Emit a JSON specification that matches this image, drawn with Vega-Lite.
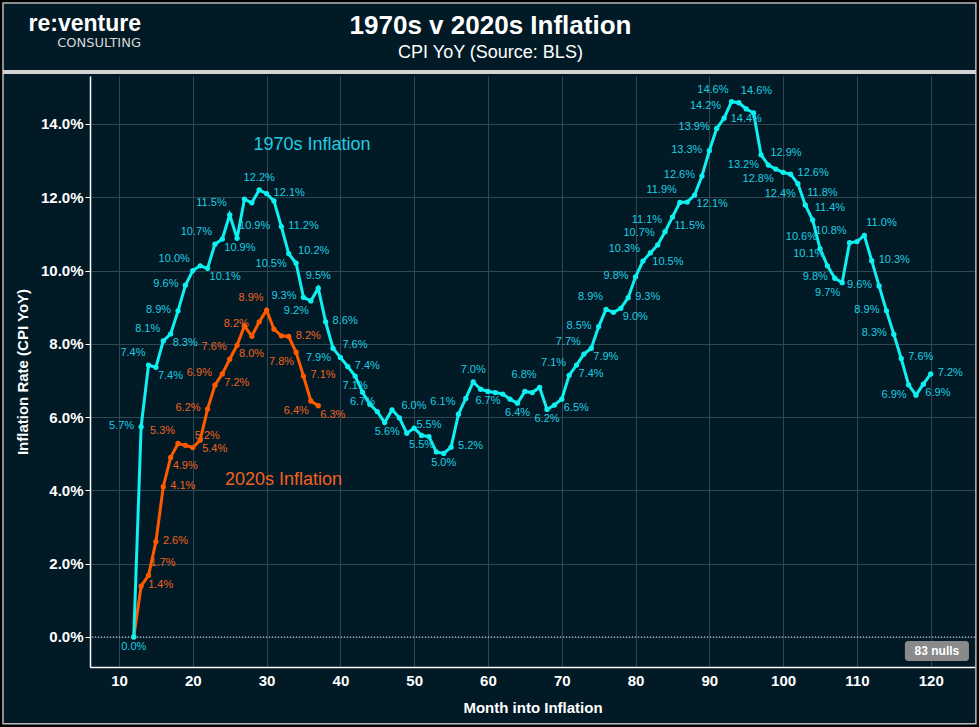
{
  "$schema": "https://vega.github.io/schema/vega-lite/v6.json",
  "width": 885,
  "height": 591,
  "autosize": {"type": "none"},
  "padding": {"left": 90, "top": 76, "right": 4, "bottom": 60},
  "background": "#011a26",
  "title": {
    "text": "1970s v 2020s Inflation",
    "subtitle": "CPI YoY (Source: BLS)",
    "anchor": "middle",
    "frame": "group",
    "dx": -42,
    "dy": 78,
    "offset": 14,
    "font": "Liberation Sans",
    "fontSize": 26,
    "fontWeight": "bold",
    "color": "#ffffff",
    "subtitleFont": "Liberation Sans",
    "subtitleFontSize": 18,
    "subtitleColor": "#ffffff",
    "subtitlePadding": 5
  },
  "config": {
    "view": {"stroke": null},
    "axis": {
      "labelFont": "Liberation Sans",
      "titleFont": "Liberation Sans",
      "labelColor": "#ffffff",
      "titleColor": "#ffffff",
      "labelFontWeight": "bold",
      "titleFontWeight": "bold",
      "labelFontSize": 15,
      "titleFontSize": 15,
      "gridColor": "#2e4753",
      "gridWidth": 1,
      "domainColor": "#ffffff",
      "domainWidth": 1.5,
      "tickColor": "#ffffff"
    },
    "text": {"font": "Liberation Sans", "fontSize": 11, "baseline": "middle"}
  },
  "datasets": {
    "cpi": [
      {"series": "1970s", "month": 12, "rate": 0.0},
      {"series": "1970s", "month": 13, "rate": 0.0574},
      {"series": "1970s", "month": 14, "rate": 0.0742},
      {"series": "1970s", "month": 15, "rate": 0.0736},
      {"series": "1970s", "month": 16, "rate": 0.0808},
      {"series": "1970s", "month": 17, "rate": 0.0827},
      {"series": "1970s", "month": 18, "rate": 0.089},
      {"series": "1970s", "month": 19, "rate": 0.096},
      {"series": "1970s", "month": 20, "rate": 0.1},
      {"series": "1970s", "month": 21, "rate": 0.1013},
      {"series": "1970s", "month": 22, "rate": 0.1006},
      {"series": "1970s", "month": 23, "rate": 0.1072},
      {"series": "1970s", "month": 24, "rate": 0.1086},
      {"series": "1970s", "month": 25, "rate": 0.1152},
      {"series": "1970s", "month": 26, "rate": 0.1088},
      {"series": "1970s", "month": 27, "rate": 0.1195},
      {"series": "1970s", "month": 28, "rate": 0.1185},
      {"series": "1970s", "month": 29, "rate": 0.122},
      {"series": "1970s", "month": 30, "rate": 0.121},
      {"series": "1970s", "month": 31, "rate": 0.119},
      {"series": "1970s", "month": 32, "rate": 0.112},
      {"series": "1970s", "month": 33, "rate": 0.1046},
      {"series": "1970s", "month": 34, "rate": 0.102},
      {"series": "1970s", "month": 35, "rate": 0.0927},
      {"series": "1970s", "month": 36, "rate": 0.0917},
      {"series": "1970s", "month": 37, "rate": 0.0952},
      {"series": "1970s", "month": 38, "rate": 0.086},
      {"series": "1970s", "month": 39, "rate": 0.0788},
      {"series": "1970s", "month": 40, "rate": 0.0763},
      {"series": "1970s", "month": 41, "rate": 0.0738},
      {"series": "1970s", "month": 42, "rate": 0.0712},
      {"series": "1970s", "month": 43, "rate": 0.0668},
      {"series": "1970s", "month": 44, "rate": 0.0635},
      {"series": "1970s", "month": 45, "rate": 0.0615},
      {"series": "1970s", "month": 46, "rate": 0.0585},
      {"series": "1970s", "month": 47, "rate": 0.062},
      {"series": "1970s", "month": 48, "rate": 0.0598},
      {"series": "1970s", "month": 49, "rate": 0.0556},
      {"series": "1970s", "month": 50, "rate": 0.057},
      {"series": "1970s", "month": 51, "rate": 0.055},
      {"series": "1970s", "month": 52, "rate": 0.0547},
      {"series": "1970s", "month": 53, "rate": 0.0505},
      {"series": "1970s", "month": 54, "rate": 0.0501},
      {"series": "1970s", "month": 55, "rate": 0.0518},
      {"series": "1970s", "month": 56, "rate": 0.0608},
      {"series": "1970s", "month": 57, "rate": 0.0651},
      {"series": "1970s", "month": 58, "rate": 0.0696},
      {"series": "1970s", "month": 59, "rate": 0.0676},
      {"series": "1970s", "month": 60, "rate": 0.067},
      {"series": "1970s", "month": 61, "rate": 0.0667},
      {"series": "1970s", "month": 62, "rate": 0.0663},
      {"series": "1970s", "month": 63, "rate": 0.0649},
      {"series": "1970s", "month": 64, "rate": 0.0638},
      {"series": "1970s", "month": 65, "rate": 0.067},
      {"series": "1970s", "month": 66, "rate": 0.0667},
      {"series": "1970s", "month": 67, "rate": 0.0681},
      {"series": "1970s", "month": 68, "rate": 0.0621},
      {"series": "1970s", "month": 69, "rate": 0.0633},
      {"series": "1970s", "month": 70, "rate": 0.0649},
      {"series": "1970s", "month": 71, "rate": 0.0714},
      {"series": "1970s", "month": 72, "rate": 0.0742},
      {"series": "1970s", "month": 73, "rate": 0.0772},
      {"series": "1970s", "month": 74, "rate": 0.0788},
      {"series": "1970s", "month": 75, "rate": 0.0847},
      {"series": "1970s", "month": 76, "rate": 0.0894},
      {"series": "1970s", "month": 77, "rate": 0.0886},
      {"series": "1970s", "month": 78, "rate": 0.0897},
      {"series": "1970s", "month": 79, "rate": 0.0926},
      {"series": "1970s", "month": 80, "rate": 0.0983},
      {"series": "1970s", "month": 81, "rate": 0.1026},
      {"series": "1970s", "month": 82, "rate": 0.1048},
      {"series": "1970s", "month": 83, "rate": 0.107},
      {"series": "1970s", "month": 84, "rate": 0.1106},
      {"series": "1970s", "month": 85, "rate": 0.1146},
      {"series": "1970s", "month": 86, "rate": 0.1186},
      {"series": "1970s", "month": 87, "rate": 0.1187},
      {"series": "1970s", "month": 88, "rate": 0.1206},
      {"series": "1970s", "month": 89, "rate": 0.1258},
      {"series": "1970s", "month": 90, "rate": 0.1327},
      {"series": "1970s", "month": 91, "rate": 0.1388},
      {"series": "1970s", "month": 92, "rate": 0.1416},
      {"series": "1970s", "month": 93, "rate": 0.1461},
      {"series": "1970s", "month": 94, "rate": 0.1458},
      {"series": "1970s", "month": 95, "rate": 0.1441},
      {"series": "1970s", "month": 96, "rate": 0.143},
      {"series": "1970s", "month": 97, "rate": 0.1316},
      {"series": "1970s", "month": 98, "rate": 0.1288},
      {"series": "1970s", "month": 99, "rate": 0.1277},
      {"series": "1970s", "month": 100, "rate": 0.1268},
      {"series": "1970s", "month": 101, "rate": 0.1263},
      {"series": "1970s", "month": 102, "rate": 0.1237},
      {"series": "1970s", "month": 103, "rate": 0.1179},
      {"series": "1970s", "month": 104, "rate": 0.1138},
      {"series": "1970s", "month": 105, "rate": 0.106},
      {"series": "1970s", "month": 106, "rate": 0.1013},
      {"series": "1970s", "month": 107, "rate": 0.0979},
      {"series": "1970s", "month": 108, "rate": 0.0967},
      {"series": "1970s", "month": 109, "rate": 0.1076},
      {"series": "1970s", "month": 110, "rate": 0.1079},
      {"series": "1970s", "month": 111, "rate": 0.1096},
      {"series": "1970s", "month": 112, "rate": 0.1027},
      {"series": "1970s", "month": 113, "rate": 0.0958},
      {"series": "1970s", "month": 114, "rate": 0.089},
      {"series": "1970s", "month": 115, "rate": 0.0826},
      {"series": "1970s", "month": 116, "rate": 0.076},
      {"series": "1970s", "month": 117, "rate": 0.0688},
      {"series": "1970s", "month": 118, "rate": 0.066},
      {"series": "1970s", "month": 119, "rate": 0.069},
      {"series": "1970s", "month": 120, "rate": 0.0718},
      {"series": "2020s", "month": 12, "rate": 0.0},
      {"series": "2020s", "month": 13, "rate": 0.0139},
      {"series": "2020s", "month": 14, "rate": 0.0168},
      {"series": "2020s", "month": 15, "rate": 0.026},
      {"series": "2020s", "month": 16, "rate": 0.041},
      {"series": "2020s", "month": 17, "rate": 0.049},
      {"series": "2020s", "month": 18, "rate": 0.0528},
      {"series": "2020s", "month": 19, "rate": 0.0523},
      {"series": "2020s", "month": 20, "rate": 0.0517},
      {"series": "2020s", "month": 21, "rate": 0.0537},
      {"series": "2020s", "month": 22, "rate": 0.0622},
      {"series": "2020s", "month": 23, "rate": 0.0687},
      {"series": "2020s", "month": 24, "rate": 0.0718},
      {"series": "2020s", "month": 25, "rate": 0.0758},
      {"series": "2020s", "month": 26, "rate": 0.0796},
      {"series": "2020s", "month": 27, "rate": 0.0849},
      {"series": "2020s", "month": 28, "rate": 0.0821},
      {"series": "2020s", "month": 29, "rate": 0.086},
      {"series": "2020s", "month": 30, "rate": 0.0892},
      {"series": "2020s", "month": 31, "rate": 0.084},
      {"series": "2020s", "month": 32, "rate": 0.0822},
      {"series": "2020s", "month": 33, "rate": 0.082},
      {"series": "2020s", "month": 34, "rate": 0.0777},
      {"series": "2020s", "month": 35, "rate": 0.0712},
      {"series": "2020s", "month": 36, "rate": 0.0644},
      {"series": "2020s", "month": 37, "rate": 0.0631}
    ]
  },
  "layer": [
    {
      "data": {"values": [{}]},
      "mark": {"type": "rect", "fill": null, "stroke": "#000000", "strokeWidth": 5},
      "encoding": {
        "x": {"datum": -6.12, "type": "quantitative"},
        "x2": {"datum": 126.5},
        "y": {"datum": 0.1738, "type": "quantitative"},
        "y2": {"datum": -0.0246}
      }
    },
    {
      "data": {"values": [{}]},
      "mark": {"type": "rect", "fill": null, "stroke": "#b8b8b8", "strokeWidth": 1.5},
      "encoding": {
        "x": {"datum": -5.72, "type": "quantitative"},
        "x2": {"datum": 126.12},
        "y": {"datum": 0.173, "type": "quantitative"},
        "y2": {"datum": -0.0237}
      }
    },
    {
      "data": {"values": [{}]},
      "mark": {"type": "rule", "stroke": "#d4d4d4", "strokeWidth": 4},
      "encoding": {
        "x": {"datum": -5.72, "type": "quantitative"},
        "x2": {"datum": 126.12},
        "y": {"datum": 0.1542, "type": "quantitative"}
      }
    },
    {
      "data": {"values": [{}]},
      "mark": {"type": "rule", "stroke": "#e6e6e6", "strokeWidth": 1, "strokeDash": [1, 2]},
      "encoding": {"y": {"datum": 0, "type": "quantitative"}}
    },
    {
      "data": {"values": [{}]},
      "mark": {"type": "text", "text": "re:venture", "align": "right", "baseline": "alphabetic", "fontSize": 23, "fontWeight": "bold", "fill": "#ffffff"},
      "encoding": {
        "x": {"datum": 12.98, "type": "quantitative"},
        "y": {"datum": 0.1653, "type": "quantitative"}
      }
    },
    {
      "data": {"values": [{}]},
      "mark": {"type": "text", "text": "CONSULTING", "align": "right", "baseline": "alphabetic", "font": "DejaVu Sans", "fontSize": 13, "fill": "#d8d8d8"},
      "encoding": {
        "x": {"datum": 12.98, "type": "quantitative"},
        "y": {"datum": 0.161, "type": "quantitative"}
      }
    },
    {
      "data": {"name": "cpi"},
      "encoding": {
        "x": {
          "field": "month",
          "type": "quantitative",
          "scale": {"domain": [6.07, 126], "nice": false, "zero": false},
          "axis": {
            "title": "Month into Inflation",
            "values": [10, 20, 30, 40, 50, 60, 70, 80, 90, 100, 110, 120],
            "grid": true,
            "ticks": false,
            "labelPadding": 6,
            "titlePadding": 12
          }
        },
        "y": {
          "field": "rate",
          "type": "quantitative",
          "scale": {"domain": [-0.0082, 0.1531], "nice": false, "zero": false},
          "axis": {
            "title": "Inflation Rate (CPI YoY)",
            "values": [0, 0.02, 0.04, 0.06, 0.08, 0.1, 0.12, 0.14],
            "format": ".1%",
            "grid": true,
            "ticks": true,
            "tickSize": 5,
            "labelPadding": 2,
            "titlePadding": 10
          }
        }
      },
      "layer": [
        {
          "transform": [{"filter": "datum.series == '2020s'"}],
          "mark": {"type": "line", "stroke": "#ff5a00", "strokeWidth": 3, "point": {"filled": true, "size": 28, "fill": "#ff5a00"}}
        },
        {
          "transform": [{"filter": "datum.series == '1970s'"}],
          "mark": {"type": "line", "stroke": "#0ff0f0", "strokeWidth": 3, "point": {"filled": true, "size": 28, "fill": "#0ff0f0"}}
        },
        {
          "encoding": {
            "text": {"field": "rate", "type": "quantitative", "format": ".1%"},
            "fill": {"field": "series", "type": "nominal", "scale": {"domain": ["1970s", "2020s"], "range": ["#1fcde0", "#f0621e"]}, "legend": null}
          },
          "layer": [
            {
              "transform": [{"filter": "datum.series == '1970s' && indexof([13,18,19,35,49,75,80,89,90,91,107,113,114,115], datum.month) >= 0 || datum.series == '2020s' && indexof([22], datum.month) >= 0"}],
              "mark": {"type": "text", "align": "right", "dx": -7, "dy": -1}
            },
            {
              "transform": [{"filter": "datum.series == '1970s' && indexof([30,32,38,41,55,79,101,112,116,120], datum.month) >= 0 || datum.series == '2020s' && indexof([13,15,16,33,35], datum.month) >= 0"}],
              "mark": {"type": "text", "align": "left", "dx": 7, "dy": -1}
            },
            {
              "transform": [{"filter": "datum.series == '1970s' && indexof([14,16,20,23,25,56,67,71,73,76,81,83,84,86,92,93,105,106,109], datum.month) >= 0 || datum.series == '2020s' && indexof([18,23,25,28,30], datum.month) >= 0"}],
              "mark": {"type": "text", "align": "right", "dx": -3, "dy": -12}
            },
            {
              "transform": [{"filter": "datum.series == '1970s' && indexof([26,34,40,48,94,98,103,104,111], datum.month) >= 0 || datum.series == '2020s' && indexof([14,20], datum.month) >= 0"}],
              "mark": {"type": "text", "align": "left", "dx": 2, "dy": -12}
            },
            {
              "transform": [{"filter": "datum.series == '1970s' && indexof([33,36,39,97,99,102,108,117], datum.month) >= 0 || datum.series == '2020s' && indexof([34,36], datum.month) >= 0"}],
              "mark": {"type": "text", "align": "right", "dx": -2, "dy": 10}
            },
            {
              "transform": [{"filter": "datum.series == '1970s' && indexof([15,17,22,24,70,72,74,78,82,85,88,119], datum.month) >= 0 || datum.series == '2020s' && indexof([17,21,24,26,37], datum.month) >= 0"}],
              "mark": {"type": "text", "align": "left", "dx": 2, "dy": 9}
            },
            {
              "transform": [{"filter": "datum.series == '1970s' && indexof([29,37,52,58], datum.month) >= 0"}],
              "mark": {"type": "text", "align": "center", "dy": -12}
            },
            {
              "transform": [{"filter": "datum.series == '1970s' && indexof([12,42,43,51,54,60,64,68,95], datum.month) >= 0"}],
              "mark": {"type": "text", "align": "center", "dy": 10}
            }
          ]
        }
      ]
    },
    {
      "data": {"values": [{}]},
      "mark": {"type": "text", "text": "1970s Inflation", "align": "center", "fontSize": 18, "fill": "#1fcde0"},
      "encoding": {
        "x": {"datum": 36.15, "type": "quantitative"},
        "y": {"datum": 0.1343, "type": "quantitative"}
      }
    },
    {
      "data": {"values": [{}]},
      "mark": {"type": "text", "text": "2020s Inflation", "align": "center", "fontSize": 18, "fill": "#f0621e"},
      "encoding": {
        "x": {"datum": 32.29, "type": "quantitative"},
        "y": {"datum": 0.0428, "type": "quantitative"}
      }
    },
    {
      "data": {"values": [{}]},
      "mark": {"type": "rect", "fill": "#8a8a8a", "cornerRadius": 3},
      "encoding": {
        "x": {"datum": 116.5, "type": "quantitative"},
        "x2": {"datum": 125.18},
        "y": {"datum": -0.0011, "type": "quantitative"},
        "y2": {"datum": -0.00655}
      }
    },
    {
      "data": {"values": [{}]},
      "mark": {"type": "text", "text": "83 nulls", "align": "center", "fontSize": 12, "fontWeight": "bold", "fill": "#ffffff"},
      "encoding": {
        "x": {"datum": 120.84, "type": "quantitative"},
        "y": {"datum": -0.0038, "type": "quantitative"}
      }
    }
  ]
}
